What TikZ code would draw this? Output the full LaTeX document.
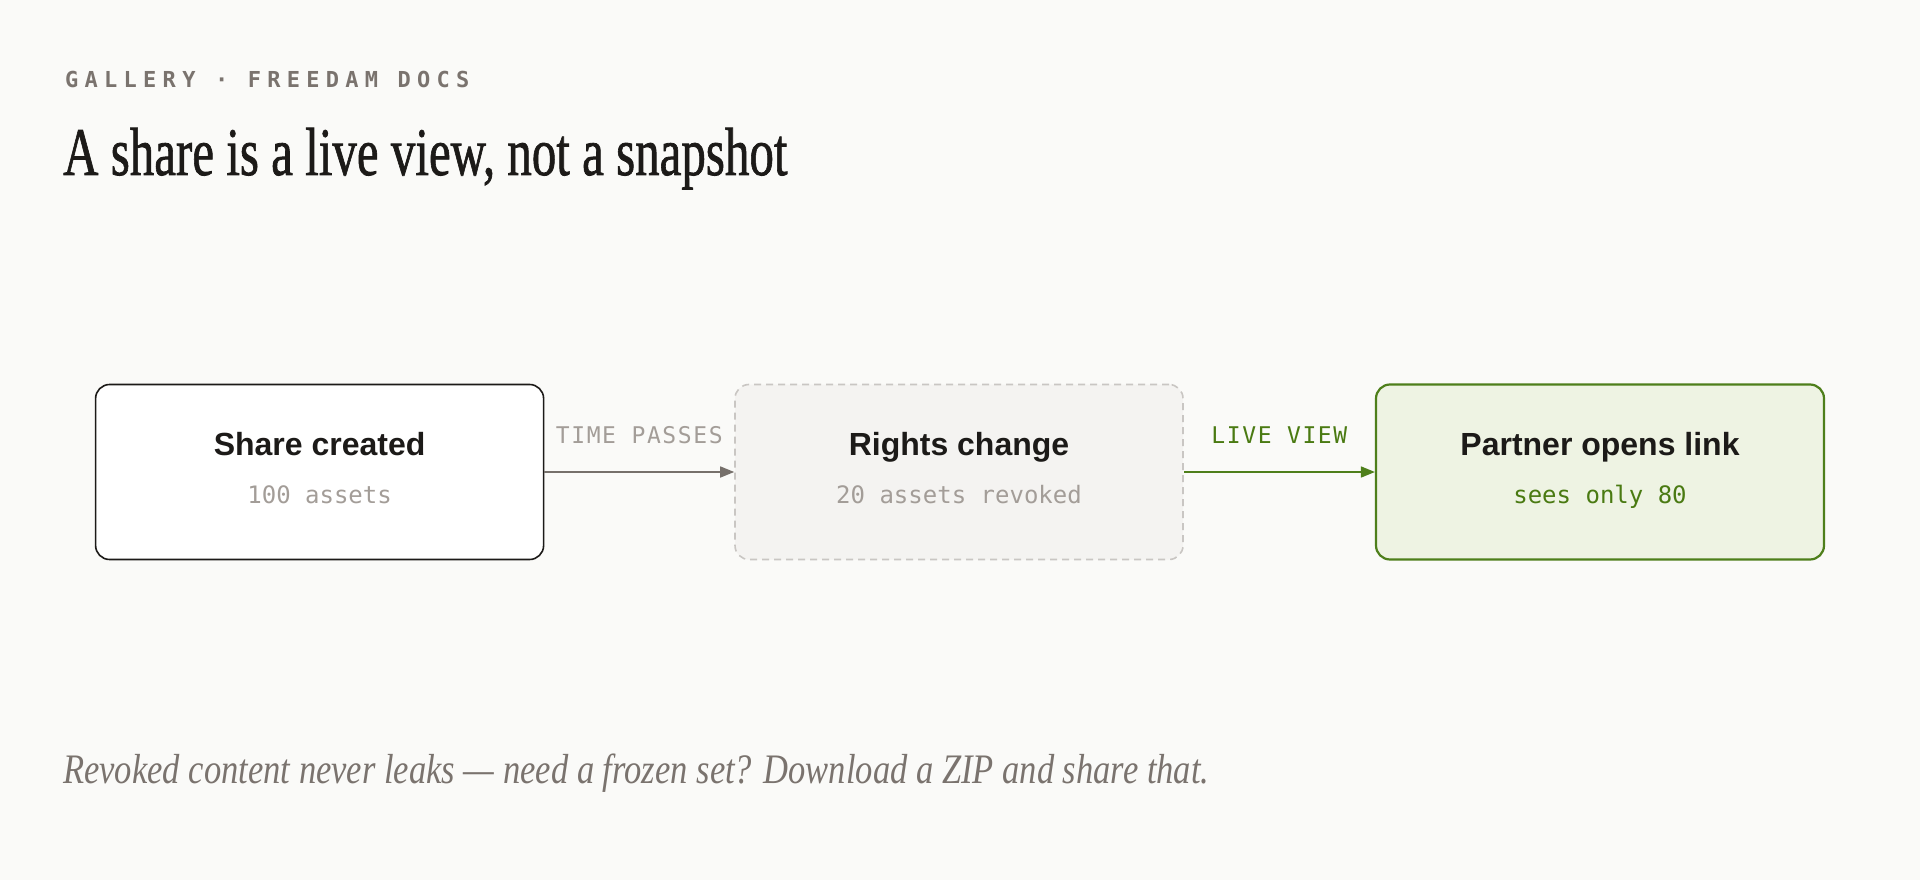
\documentclass[tikz,border=0pt]{standalone}
\usepackage{fontspec}
\setmainfont{Liberation Serif}
\newfontfamily\titlef[FakeBold=1.2]{Liberation Serif}
\newfontfamily\monof{DejaVu Sans Mono}
\newfontfamily\sansf{Liberation Sans}
\newfontfamily\eyebrowf[LetterSpace=28.5]{DejaVu Sans Mono}
\newfontfamily\labelf[LetterSpace=7]{DejaVu Sans Mono}
\usetikzlibrary{arrows.meta,calc}
\definecolor{bgc}{HTML}{FAFAF8}
\definecolor{inkc}{HTML}{1C1A18}
\definecolor{mutedc}{HTML}{7A736E}
\definecolor{softc}{HTML}{A39D98}
\definecolor{arrowc}{HTML}{76706B}
\definecolor{dashc}{HTML}{C9C6C3}
\definecolor{graybox}{HTML}{F4F3F1}
\definecolor{greenfill}{HTML}{EEF3E3}
\definecolor{greenc}{HTML}{4E7F1B}
\definecolor{greentxt}{HTML}{4A7A12}
\tikzset{
  card/.style={rectangle, rounded corners=14pt, minimum width=448pt, minimum height=175pt, inner sep=0pt},
  cardtitle/.style={anchor=base, inner sep=0pt, text=inkc, font=\sansf\bfseries\fontsize{32}{38}\selectfont},
  cardsub/.style={anchor=base, inner sep=0pt, font=\monof\fontsize{24}{28}\selectfont},
  flowlabel/.style={anchor=base, inner sep=0pt, font=\labelf\fontsize{23}{28}\selectfont},
  flow/.style={line width=1.6pt, -{Triangle[length=14pt,width=11pt]}},
}
\begin{document}
\begin{tikzpicture}[x=1pt,y=-1pt]
\fill[bgc] (0,0) rectangle (1920,880);
\useasboundingbox (0,0) rectangle (1920,880);

\node[anchor=base west, inner sep=0pt, text=mutedc, font=\eyebrowf\bfseries\fontsize{22}{26}\selectfont] (eyebrow) at (65,88) {GALLERY · FREEDAM DOCS};
\node[anchor=base west, inner sep=0pt, text=inkc, font=\titlef\fontsize{68}{80}\selectfont] (title) at (63,175) {\scalebox{0.72}[1]{A share is a live view, not a snapshot}};

\node[card, draw=inkc, line width=1.6pt, fill=white] (b1) at (319.6,472) {};
\node[card, draw=dashc, line width=1.6pt, dash pattern=on 7pt off 5pt, fill=graybox] (b2) at (959,472) {};
\node[card, draw=greenc, line width=2.2pt, fill=greenfill] (b3) at (1600,472) {};

\node[cardtitle] (t1) at ($(b1.center)+(0,-16.5)$) {Share created};
\node[cardsub, text=softc] (s1) at ($(b1.center)+(0,31)$) {100 assets};
\node[cardtitle] (t2) at ($(b2.center)+(0,-16.5)$) {Rights change};
\node[cardsub, text=softc] (s2) at ($(b2.center)+(0,31)$) {20 assets revoked};
\node[cardtitle] (t3) at ($(b3.center)+(0,-16.5)$) {Partner opens link};
\node[cardsub, text=greentxt] (s3) at ($(b3.center)+(0,31)$) {sees only 80};

\draw[flow, draw=arrowc, fill=arrowc] (b1.east) -- (b2.west);
\draw[flow, draw=greenc, fill=greenc] (b2.east) -- (b3.west);
\node[flowlabel, text=softc] (l1) at ($(b1.east)!0.5!(b2.west)+(0,-28.5)$) {TIME PASSES};
\node[flowlabel, text=greentxt] (l2) at ($(b2.east)!0.5!(b3.west)+(0,-28.5)$) {LIVE VIEW};

\node[anchor=base west, inner sep=0pt, text=mutedc, font=\itshape\fontsize{42}{50}\selectfont] (foot) at (63,783) {\scalebox{0.822}[1]{Revoked content never leaks — need a frozen set? Download a ZIP and share that.}};
\end{tikzpicture}
\end{document}
